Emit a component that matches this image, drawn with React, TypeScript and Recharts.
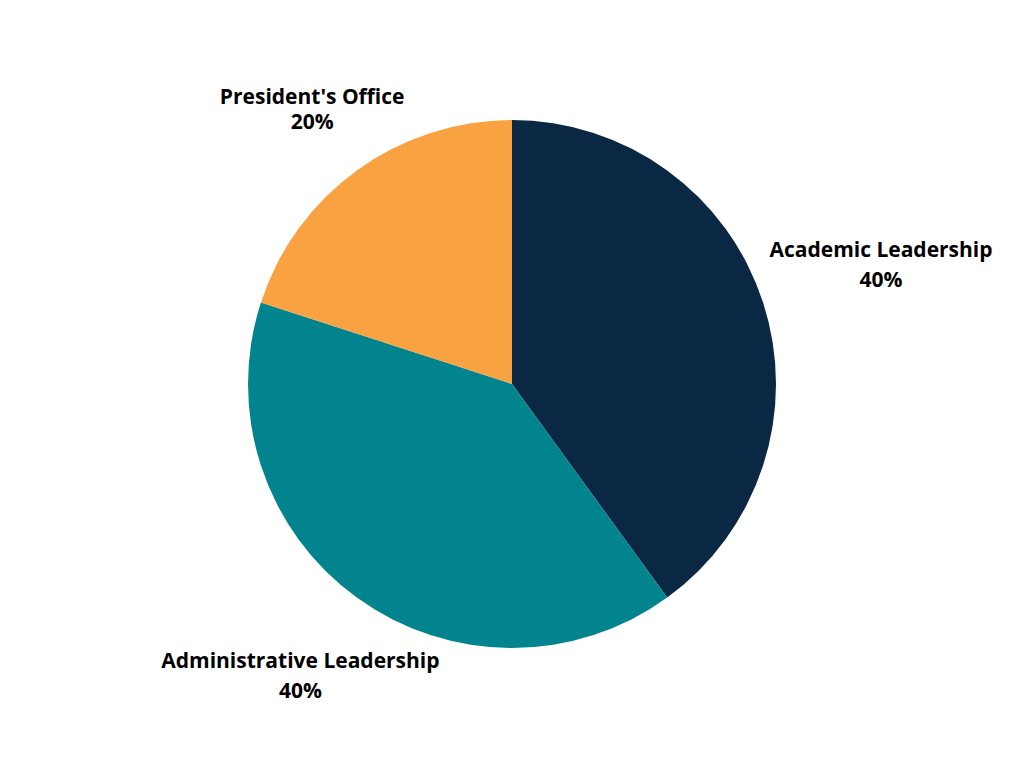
import { PieChart, Pie, Cell } from "recharts";

const LABELS = ["Academic Leadership", "Administrative Leadership", "President's Office"];
const VALUES = [40, 40, 20];
const COLORS = ["#0a2744", "#02848f", "#f9a242"];

// label placement per slice: distance from centre, gap between the two lines
const LABEL_RADIUS = [388, 360, 340];
const LINE_GAP = [30, 30, 25];

const data = LABELS.map((label, i) => ({ label, value: VALUES[i] }));

const RAD = Math.PI / 180;

function renderLabel(props: any) {
  const { cx, cy, midAngle, index, name, percent } = props;
  const angle = midAngle * RAD;
  const r = LABEL_RADIUS[index];
  const x = cx + r * Math.cos(-angle);
  const y = cy + r * Math.sin(-angle);
  const gap = LINE_GAP[index];
  return (
    <text
      x={x}
      y={y}
      textAnchor="middle"
      dominantBaseline="central"
      style={{ fontSize: 21, fontWeight: 700, fill: "#000", fontFamily: "'Open Sans', sans-serif" }}
    >
      <tspan x={x} y={y - gap / 2}>
        {name}
      </tspan>
      <tspan x={x} y={y + gap / 2}>
        {Math.round((percent ?? 0) * 100)}%
      </tspan>
    </text>
  );
}

export default function App() {
  return (
    <div style={{ position: "absolute", left: 0, top: 0, width: 1024, height: 768, background: "#fff" }}>
      <PieChart width={1024} height={768} margin={{ top: 0, right: 0, bottom: 0, left: 0 }}>
        <Pie
          data={data}
          dataKey="value"
          nameKey="label"
          cx={512}
          cy={384}
          outerRadius={264}
          startAngle={90}
          endAngle={-270}
          stroke="none"
          label={renderLabel}
          labelLine={false}
          isAnimationActive={false}
        >
          {data.map((_, i) => (
            <Cell key={i} fill={COLORS[i]} />
          ))}
        </Pie>
      </PieChart>
    </div>
  );
}
